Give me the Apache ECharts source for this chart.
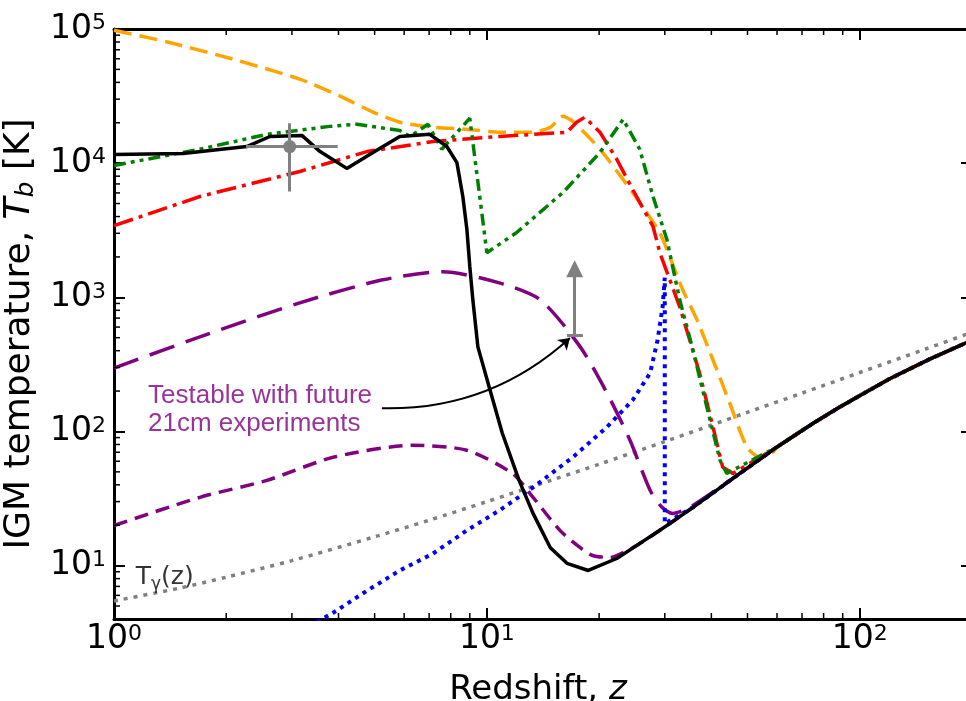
<!DOCTYPE html>
<html><head><meta charset="utf-8">
<script src="https://cdn.jsdelivr.net/npm/echarts@6.0.0/dist/echarts.min.js"></script>
<style>html,body{margin:0;padding:0;background:#fff;overflow:hidden}#c{width:966px;height:701px}</style>
</head><body><div id="c"></div>
<script>
// ---------------- data ----------------
const X_MIN = 1, X_MAX = 200, Y_MIN = 4, Y_MAX = 1e5;

// high-redshift adiabatic branch shared by all models
const tailZ = [60, 75, 88.4, 120, 154, 200];
const tailT = [76.6, 115, 152, 246, 346, 479];

const blackZ = [1, 1.53, 2.27, 2.62, 3.19, 3.57, 4.21, 4.95, 5.84, 7.03, 7.81, 8.31, 8.62, 8.84, 9.0, 9.17, 9.46, 10.2, 11.0, 12.2, 13.3, 14.8, 16.4, 18.7, 22.3, 25.2, 30.4, 35.7, 47.7].concat(tailZ);
const blackT = [1.16e4, 1.18e4, 1.33e4, 1.58e4, 1.61e4, 1.22e4, 9.14e3, 1.2e4, 1.58e4, 1.64e4, 1.33e4, 1.01e4, 5.64e3, 3.2e3, 1.69e3, 958, 427, 203, 97, 43.2, 24.5, 13.6, 10.4, 9.2, 11.3, 14.1, 19.9, 27.2, 48.7].concat(tailT);

const orangeZ = [1.0, 1.39, 2.08, 3.15, 4.04, 4.95, 5.84, 7.17, 8.84, 10.8, 13.3, 14.8, 16.0, 17.0, 20.1, 24.6, 29.1, 30.4, 33.5, 36.6, 40.4, 44.8, 49.8, 53.9, 58.5].concat(tailZ);
const orangeT = [9.8e4, 8.0e4, 5.97e4, 4.23e4, 3.16e4, 2.4e4, 2.02e4, 1.85e4, 1.79e4, 1.70e4, 1.70e4, 1.85e4, 2.24e4, 2.05e4, 1.27e4, 6.04e3, 3.03e3, 2.27e3, 1.14e3, 679, 341, 163, 76.3, 64.2, 70].concat(tailT);

const redZ = [1, 1.70, 3.15, 4.77, 7.17, 10.8, 16.4, 17.4, 18.3, 20.1, 22.3, 24.6, 27.9, 29.1, 32.9, 37.2, 40.4, 42.9, 45.7].concat(tailZ);
const redT = [3.42e3, 5.64e3, 8.67e3, 1.22e4, 1.45e4, 1.58e4, 1.70e4, 2.02e4, 2.2e4, 1.70e4, 1.07e4, 6.37e3, 3.37e3, 2.15e3, 849, 272, 108, 54, 48.7].concat(tailT);

const greenZ = [1, 1.70, 2.57, 3.79, 4.48, 5.84, 6.22, 6.95, 7.57, 9.0, 10.0, 12.0, 16.0, 20.1, 23.2, 25.7, 27.9, 30.4, 32.9, 35.7, 38.9, 42.2, 44.0].concat(tailZ);
const greenT = [9.62e3, 1.27e4, 1.64e4, 1.88e4, 1.95e4, 1.75e4, 1.58e4, 1.95e4, 1.27e4, 2.16e4, 2.15e3, 3.03e3, 6.04e3, 1.2e4, 2.12e4, 1.27e4, 5.64e3, 2.69e3, 958, 405, 152, 61, 48.7].concat(tailT);

const purpleLongZ = [1, 1.70, 3.15, 5.26, 7.62, 10.8, 13.9, 17.8, 21.0, 24.2, 27.4, 29.5, 31.5, 35.0, 47.7].concat(tailZ);
const purpleLongT = [297, 507, 910, 1.35e3, 1.55e3, 1.28e3, 958, 427, 193, 86, 36.4, 27.2, 24.5, 27.2, 48.7].concat(tailT);

const purpleShortZ = [1, 1.70, 2.57, 3.87, 6.33, 8.84, 11.7, 13.3, 15.7, 17.8, 19.2, 21.4, 23.2, 25.2, 30.4, 35.7, 47.7].concat(tailZ);
const purpleShortT = [19.9, 32.3, 43.2, 64.2, 78.9, 72.4, 48.7, 32.3, 18.3, 13.6, 11.9, 11.5, 12.5, 14.1, 19.9, 27.2, 48.7].concat(tailT);

const blueZ = [3.5, 3.87, 4.77, 5.84, 7.17, 8.84, 10.8, 13.3, 17.0, 21.0, 24.6, 27.4, 28.7, 29.6, 30.0, 30.0, 35.7, 47.7].concat(tailZ);
const blueT = [3.8, 4.45, 6.5, 9.2, 12.3, 18.3, 25.8, 38.3, 64.2, 108, 171, 272, 481, 849, 1.4e3, 20.6, 27.2, 48.7].concat(tailT);

const cmbZ = [1, 1.5, 2, 3, 5, 7, 10, 15, 20, 30, 50, 70, 100, 150, 200];
const cmbT = [5.45, 6.8, 8.2, 10.9, 16.4, 21.8, 30, 43.6, 57, 84, 139, 193, 275, 411, 548];

// observational point with error bars
const obsPoint = [2.96, 1.33e4];
const obsXErr = [2.26, 3.98];
const obsYErr = [6.15e3, 1.98e4];

// lower limit arrow
const limitZ = 17.2;
const limitBase = 525;
const limitTop = 1.63e3;
const limitCapZ = [16.4, 18.1];

// annotation arrow (start at text, end at limit)
const noteArrowFrom = [5.23, 149];
const noteArrowTo = [16.7, 498];

// ticks
const xMinorTicks = [2,3,4,5,6,7,8,9,20,30,40,50,60,70,80,90];
const yMinorTicks = [5,6,7,8,9,20,30,40,50,60,70,80,90,200,300,400,500,600,700,800,900,
  2000,3000,4000,5000,6000,7000,8000,9000,20000,30000,40000,50000,60000,70000,80000,90000];

// ---------------- chart ----------------
const pair = (zs, ts) => zs.map((z, i) => [z, ts[i]]);
const TICK_FONT = 'DejaVu Sans';
const TITLE_FONT = 'DejaVu Sans';

function powLabel(v) {
  const e = Math.log10(v);
  const r = Math.round(e);
  if (Math.abs(e - r) > 1e-6) return '';
  return '{b|10}{s|' + r + '}';
}
const labelRich = {
  b: { fontSize: 33, fontFamily: TICK_FONT, color: '#000' },
  s: { fontSize: 22, fontFamily: TICK_FONT, color: '#000', verticalAlign: 'top' }
};
const axisLineStyle = { color: '#000', width: 3 };
const majorTick = { show: true, inside: true, length: 11, lineStyle: { color: '#000', width: 2 } };

function lineSeries(name, zs, ts, color, dash, width, smooth, zz) {
  return {
    name, type: 'line', data: pair(zs, ts), showSymbol: false, symbol: 'none',
    smooth: smooth, clip: true, silent: true,
    lineStyle: { color, width, type: dash, cap: 'butt' }, z: zz
  };
}

const chart = echarts.init(document.getElementById('c'), null, { renderer: 'canvas' });
chart.setOption({
  animation: false,
  backgroundColor: '#fff',
  grid: { left: 114, right: -6, top: 29, bottom: 82, containLabel: false, outerBoundsMode: 'none' },
  xAxis: [{
    type: 'log', logBase: 10, min: X_MIN, max: X_MAX, position: 'bottom',
    axisLine: { onZero: false, lineStyle: axisLineStyle }, axisTick: majorTick,
    splitLine: { show: false },
    axisLabel: { formatter: powLabel, rich: labelRich, margin: 4, showMaxLabel: false },
    name: 'Redshift, {i|z}', nameLocation: 'middle', nameGap: 54,
    nameTextStyle: { fontSize: 34, fontFamily: TITLE_FONT, color: '#000', padding: [0, 10, 0, 0],
      rich: { i: { fontSize: 34, fontFamily: TITLE_FONT, fontStyle: 'italic', color: '#000' } } }
  }, {
    type: 'log', logBase: 10, min: X_MIN, max: X_MAX, position: 'top',
    axisLine: { onZero: false, lineStyle: axisLineStyle }, axisTick: majorTick,
    splitLine: { show: false }, axisLabel: { show: false }
  }],
  yAxis: [{
    type: 'log', logBase: 10, min: Y_MIN, max: Y_MAX, position: 'left',
    axisLine: { onZero: false, lineStyle: axisLineStyle }, axisTick: majorTick,
    splitLine: { show: false },
    axisLabel: { formatter: powLabel, rich: labelRich, margin: 8, showMinLabel: false },
    name: 'IGM temperature, {i|T}{sb|b} [K]', nameLocation: 'middle', nameGap: 55, nameRotate: 90,
    nameTextStyle: { fontSize: 36, fontFamily: TITLE_FONT, color: '#000', padding: [0, 20, 0, 0],
      rich: {
        i: { fontSize: 36, fontFamily: TITLE_FONT, fontStyle: 'italic', color: '#000' },
        sb: { fontSize: 25, fontFamily: TITLE_FONT, fontStyle: 'italic', color: '#000',
              verticalAlign: 'bottom', padding: [14, 0, 0, 0] }
      } }
  }, {
    type: 'log', logBase: 10, min: Y_MIN, max: Y_MAX, position: 'right',
    axisLine: { onZero: false, lineStyle: axisLineStyle }, axisTick: majorTick,
    splitLine: { show: false }, axisLabel: { show: false }
  }],
  series: [
    lineSeries('cmb', cmbZ, cmbT, '#808080', [4, 6], 3.5, 0.3, 2),
    lineSeries('purpleShort', purpleShortZ, purpleShortT, '#800080', [14, 8], 3.5, 0.25, 3),
    lineSeries('purpleLong', purpleLongZ, purpleLongT, '#800080', [26, 12], 3.5, 0.25, 3),
    lineSeries('blue', blueZ, blueT, '#0000FF', [4, 5], 4, false, 4),
    lineSeries('orange', orangeZ, orangeT, '#FFA500', [18, 8], 3.5, 0.2, 5),
    lineSeries('red', redZ, redT, '#FF0000', [20, 6, 4, 6], 3.5, false, 6),
    lineSeries('green', greenZ, greenT, '#008000', [12, 5, 4, 5, 4, 5], 3.5, false, 7),
    lineSeries('black', blackZ, blackT, '#000000', 'solid', 3.5, false, 8),
    { // error bars
      type: 'lines', coordinateSystem: 'cartesian2d', silent: true, z: 9,
      symbol: 'none',
      lineStyle: { color: '#808080', width: 3, opacity: 1, curveness: 0 },
      data: [
        { coords: [[obsXErr[0], obsPoint[1]], [obsXErr[1], obsPoint[1]]] },
        { coords: [[obsPoint[0], obsYErr[0]], [obsPoint[0], obsYErr[1]]] },
        { coords: [[limitCapZ[0], limitBase], [limitCapZ[1], limitBase]] }
      ]
    },
    {
      type: 'scatter', data: [obsPoint], symbolSize: 13, silent: true, z: 9,
      itemStyle: { color: '#808080', opacity: 1 }
    },
    { // lower-limit arrow
      type: 'lines', coordinateSystem: 'cartesian2d', silent: true, z: 9,
      symbol: ['none', 'triangle'], symbolSize: [0, 17],
      lineStyle: { color: '#808080', width: 3, opacity: 1, curveness: 0 },
      data: [{ coords: [[limitZ, limitBase], [limitZ, limitTop]] }]
    },
    { // annotation arrow
      type: 'lines', coordinateSystem: 'cartesian2d', silent: true, z: 9,
      symbol: ['none', 'arrow'], symbolSize: [0, 11],
      lineStyle: { color: '#000', width: 2, opacity: 1, curveness: -0.2 },
      data: [{ coords: [noteArrowFrom, noteArrowTo] }]
    },
    { // annotation text
      type: 'scatter', data: [[1.23, 146]], symbolSize: 1, silent: true, z: 9,
      itemStyle: { color: 'rgba(0,0,0,0)' },
      label: { show: true, position: 'right', distance: 0,
        formatter: 'Testable with future\n21cm experiments',
        color: '#800080', fontSize: 26, lineHeight: 28, fontFamily: 'Liberation Sans' }
    },
    { // T_gamma label
      type: 'scatter', data: [[1.14, 8.1]], symbolSize: 1, silent: true, z: 9,
      itemStyle: { color: 'rgba(0,0,0,0)' },
      label: { show: true, position: 'right', distance: 0, color: '#000',
        formatter: '{t|T}{g|γ}{t|(z)}',
        rich: {
          t: { fontSize: 25, fontFamily: TICK_FONT, color: '#000' },
          g: { fontSize: 17, fontFamily: TICK_FONT, color: '#000', verticalAlign: 'bottom', padding: [14, 0, 0, 0] }
        } }
    },
    { // minor ticks on x (bottom & top)
      type: 'custom', silent: true, z: 10, clip: false,
      data: xMinorTicks.map(v => [v, Y_MIN]),
      renderItem(params, api) {
        const x = api.value(0);
        const pb = api.coord([x, Y_MIN]);
        const pt = api.coord([x, Y_MAX]);
        const st = { stroke: '#000', lineWidth: 1.5 };
        return { type: 'group', children: [
          { type: 'line', shape: { x1: pb[0], y1: pb[1], x2: pb[0], y2: pb[1] - 6 }, style: st },
          { type: 'line', shape: { x1: pt[0], y1: pt[1], x2: pt[0], y2: pt[1] + 6 }, style: st }
        ] };
      }
    },
    { // minor ticks on y (left & right)
      type: 'custom', silent: true, z: 10, clip: false,
      data: yMinorTicks.map(v => [X_MIN, v]),
      renderItem(params, api) {
        const y = api.value(1);
        const pl = api.coord([X_MIN, y]);
        const pr = api.coord([X_MAX, y]);
        const st = { stroke: '#000', lineWidth: 1.5 };
        return { type: 'group', children: [
          { type: 'line', shape: { x1: pl[0], y1: pl[1], x2: pl[0] + 6, y2: pl[1] }, style: st },
          { type: 'line', shape: { x1: pr[0], y1: pr[1], x2: pr[0] - 6, y2: pr[1] }, style: st }
        ] };
      }
    }
  ]
});
</script></body></html>
